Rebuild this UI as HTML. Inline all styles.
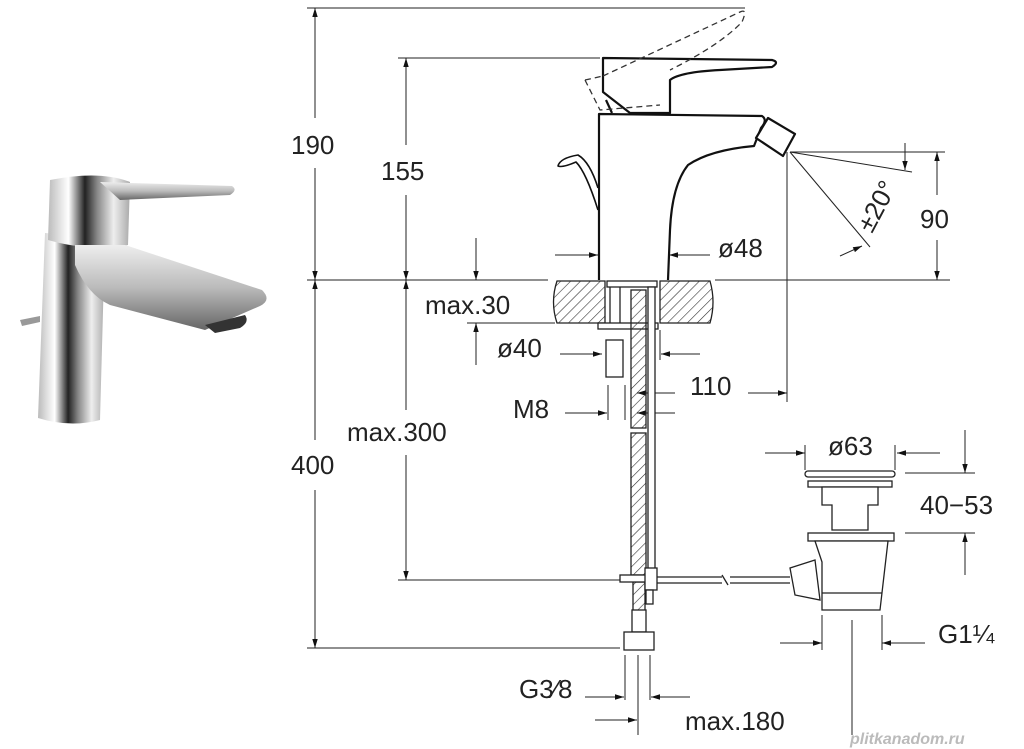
<!DOCTYPE html>
<html><head><meta charset="utf-8"><style>
html,body{margin:0;padding:0;background:#fff;}
svg{display:block;}
text{font-family:"Liberation Sans","DejaVu Sans",sans-serif;font-size:26px;fill:#222;}
</style></head><body>
<svg width="1024" height="749" viewBox="0 0 1024 749" xmlns="http://www.w3.org/2000/svg">
<defs>
<marker id="a" viewBox="0 0 10 10" refX="10" refY="5" markerWidth="9" markerHeight="9" orient="auto-start-reverse" markerUnits="userSpaceOnUse"><path d="M0,2 L10,5 L0,8 z" fill="#111"/></marker>
<pattern id="h" width="7" height="7" patternUnits="userSpaceOnUse" patternTransform="rotate(45)"><line x1="0" y1="0" x2="0" y2="7" stroke="#333" stroke-width="1.2"/></pattern>
<linearGradient id="c1" x1="0" x2="1"><stop offset="0" stop-color="#bbb"/><stop offset=".25" stop-color="#fff"/><stop offset=".45" stop-color="#222"/><stop offset=".6" stop-color="#888"/><stop offset=".8" stop-color="#eee"/><stop offset="1" stop-color="#aaa"/></linearGradient>
<linearGradient id="c2" x1="0" y1="0" x2="0" y2="1"><stop offset="0" stop-color="#eee"/><stop offset=".5" stop-color="#bbb"/><stop offset="1" stop-color="#666"/></linearGradient>
</defs>

<g>
<path d="M45,233 L105,238 L100,420 Q70,428 38,418 Z" fill="url(#c1)"/>
<path d="M50,180 Q100,170 130,182 L128,245 Q90,252 48,240 Z" fill="url(#c1)"/>
<path d="M100,182 L232,186 Q238,190 230,195 L120,200 Z" fill="url(#c2)"/>
<path d="M75,245 L125,245 L262,290 Q272,300 260,306 L205,330 L110,305 Q88,295 75,265Z" fill="url(#c2)"/>
<path d="M205,325 L245,315 Q250,322 240,328 L215,333Z" fill="#333"/>
<path d="M20,320 L40,316 L40,322 L22,326Z" fill="#999"/>
</g>

<g stroke="#222" stroke-width="1" fill="none">
<line x1="307" y1="8" x2="745" y2="8"/>
<line x1="398" y1="58" x2="600" y2="58"/>
<line x1="307" y1="280" x2="548" y2="280"/>
<line x1="715" y1="280" x2="950" y2="280"/>
<line x1="307" y1="648" x2="620" y2="648"/>
<line x1="398" y1="580" x2="620" y2="580"/>
<line x1="467" y1="323" x2="555" y2="323"/>
<line x1="790" y1="152" x2="945" y2="152"/>
<line x1="315" y1="8" x2="315" y2="118" marker-start="url(#a)"/>
<line x1="315" y1="168" x2="315" y2="280" marker-end="url(#a)"/>
<line x1="315" y1="280" x2="315" y2="440" marker-start="url(#a)"/>
<line x1="315" y1="490" x2="315" y2="648" marker-end="url(#a)"/>
<line x1="406" y1="58" x2="406" y2="145" marker-start="url(#a)"/>
<line x1="406" y1="195" x2="406" y2="280" marker-end="url(#a)"/>
<line x1="406" y1="280" x2="406" y2="410" marker-start="url(#a)"/>
<line x1="406" y1="455" x2="406" y2="580" marker-end="url(#a)"/>
<line x1="476" y1="238" x2="476" y2="280" marker-end="url(#a)"/>
<line x1="476" y1="365" x2="476" y2="323" marker-end="url(#a)"/>
<line x1="555" y1="255" x2="598" y2="255" marker-end="url(#a)"/>
<line x1="710" y1="255" x2="669" y2="255" marker-end="url(#a)"/>
<line x1="560" y1="354" x2="602" y2="354" marker-end="url(#a)"/>
<line x1="700" y1="354" x2="661" y2="354" marker-end="url(#a)"/>
<line x1="660" y1="330" x2="660" y2="360"/>
<line x1="565" y1="413" x2="607" y2="413" marker-end="url(#a)"/>
<line x1="675" y1="413" x2="637" y2="413" marker-end="url(#a)"/>
<line x1="608" y1="385" x2="608" y2="420"/>
<line x1="625" y1="385" x2="625" y2="420"/>
<line x1="675" y1="393" x2="637" y2="393" marker-end="url(#a)"/>
<line x1="748" y1="393" x2="787" y2="393" marker-end="url(#a)"/>
<line x1="787" y1="152" x2="787" y2="402"/>
<line x1="790" y1="152" x2="912" y2="172"/>
<line x1="790" y1="152" x2="870" y2="247"/>
<line x1="905" y1="143" x2="905" y2="170" marker-end="url(#a)"/>
<line x1="840" y1="256" x2="862" y2="246" marker-end="url(#a)"/>
<line x1="937" y1="152" x2="937" y2="195" marker-start="url(#a)"/>
<line x1="937" y1="240" x2="937" y2="280" marker-end="url(#a)"/>
<line x1="765" y1="453" x2="805" y2="453" marker-end="url(#a)"/>
<line x1="940" y1="453" x2="897" y2="453" marker-end="url(#a)"/>
<line x1="805" y1="445" x2="805" y2="470"/>
<line x1="895" y1="445" x2="895" y2="470"/>
<line x1="905" y1="473" x2="975" y2="473"/>
<line x1="905" y1="533" x2="975" y2="533"/>
<line x1="965" y1="430" x2="965" y2="473" marker-end="url(#a)"/>
<line x1="965" y1="575" x2="965" y2="533" marker-end="url(#a)"/>
<line x1="780" y1="643" x2="822" y2="643" marker-end="url(#a)"/>
<line x1="925" y1="643" x2="882" y2="643" marker-end="url(#a)"/>
<line x1="822" y1="615" x2="822" y2="650"/>
<line x1="882" y1="615" x2="882" y2="650"/>
<line x1="852" y1="620" x2="852" y2="735"/>
<line x1="625" y1="655" x2="625" y2="700"/>
<line x1="638" y1="655" x2="638" y2="735"/>
<line x1="650" y1="655" x2="650" y2="700"/>
<line x1="585" y1="697" x2="624" y2="697" marker-end="url(#a)"/>
<line x1="690" y1="697" x2="651" y2="697" marker-end="url(#a)"/>
<line x1="595" y1="720" x2="637" y2="720" marker-end="url(#a)"/>
</g>

<g stroke="#222" stroke-width="1.3">
<path d="M557,281 L605,281 L605,323 L557,323 Q550,302 557,281Z" fill="url(#h)"/>
<path d="M660,281 L710,281 Q716,302 710,323 L660,323Z" fill="url(#h)"/>
</g>

<g stroke="#111" stroke-width="2.2" fill="#fff" stroke-linejoin="round">
<path d="M599,280 L599,114 L762,116 Q768,120 761,128 L754,146 Q710,150 688,165 Q672,185 670,230 L668,280" />
<path d="M756,138 L768,118 L795,134 L783,156 Z"/>
<path d="M603,58 L603,92 L630,113 L670,113 L670,80 Q680,72 720,70 L772,67 Q780,62 772,60 Z"/>
<path d="M606,100 L612,113" />
<path d="M598,188 Q590,162 578,155 Q560,158 558,166 Q562,168 576,162 Q586,172 598,210" stroke-width="1.6"/>
</g>
<g stroke="#333" stroke-width="1.3" fill="none" stroke-dasharray="6,4">
<path d="M585,80 L603,76 M603,76 L740,12 Q748,8 742,22 Q720,45 670,70 M585,80 L600,110 L660,105"/>
</g>

<g stroke="#222" stroke-width="1.3">
<rect x="607" y="281" width="50" height="6" fill="#fff"/>
<rect x="598" y="323" width="60" height="6" fill="#fff"/>
<rect x="606" y="340" width="17" height="37" fill="#fff"/>
<line x1="610" y1="287" x2="610" y2="323"/><line x1="620" y1="287" x2="620" y2="323"/>
<rect x="631" y="290" width="15" height="138" fill="url(#h)"/>
<rect x="631" y="433" width="15" height="142" fill="url(#h)"/>
<rect x="648" y="287" width="7" height="282" fill="#fff"/>
<rect x="633" y="582" width="12" height="30" fill="url(#h)"/>
<rect x="620" y="575" width="35" height="7" fill="#fff"/>
<rect x="645" y="568" width="12" height="22" fill="#fff"/>
<rect x="646" y="590" width="7" height="14" fill="#fff"/>
<rect x="632" y="610" width="14" height="22" fill="#fff"/>
<rect x="624" y="632" width="30" height="18" fill="#fff"/>
<line x1="657" y1="577" x2="722" y2="577"/><line x1="657" y1="583" x2="722" y2="583"/>
<line x1="730" y1="577" x2="790" y2="577"/><line x1="730" y1="583" x2="790" y2="583"/>
<line x1="722" y1="575" x2="728" y2="585"/>
<rect x="805" y="471" width="90" height="6" rx="3" fill="#fff"/>
<rect x="808" y="481" width="84" height="6" fill="#fff"/>
<path d="M822,487 L822,505 L832,505 L832,530 L868,530 L868,505 L878,505 L878,487Z" fill="#fff"/>
<rect x="808" y="533" width="86" height="8" fill="#fff"/>
<path d="M815,541 L822,562 L822,610 L880,610 L888,541Z" fill="#fff"/>
<path d="M790,568 L815,560 L820,600 L795,595Z" fill="#fff"/>
<line x1="822" y1="593" x2="882" y2="593"/>
</g>

<text x="291" y="154">190</text>
<text x="381" y="180">155</text>
<text x="291" y="474">400</text>
<text x="347" y="441">max.300</text>
<text x="425" y="314">max.30</text>
<text x="497" y="357">ø40</text>
<text x="513" y="418">M8</text>
<text x="690" y="395">110</text>
<text x="718" y="257">ø48</text>
<text x="920" y="228">90</text>
<text x="0" y="0" transform="translate(872,234) rotate(-62)">±20°</text>
<text x="828" y="455">ø63</text>
<text x="920" y="514">40−53</text>
<text x="938" y="643">G1¼</text>
<text x="519" y="698">G3⁄8</text>
<text x="685" y="730">max.180</text>
<text x="850" y="744" style="font-size:16px;fill:#bbb;font-style:italic;font-weight:bold">plitkanadom.ru</text>
</svg>
</body></html>
